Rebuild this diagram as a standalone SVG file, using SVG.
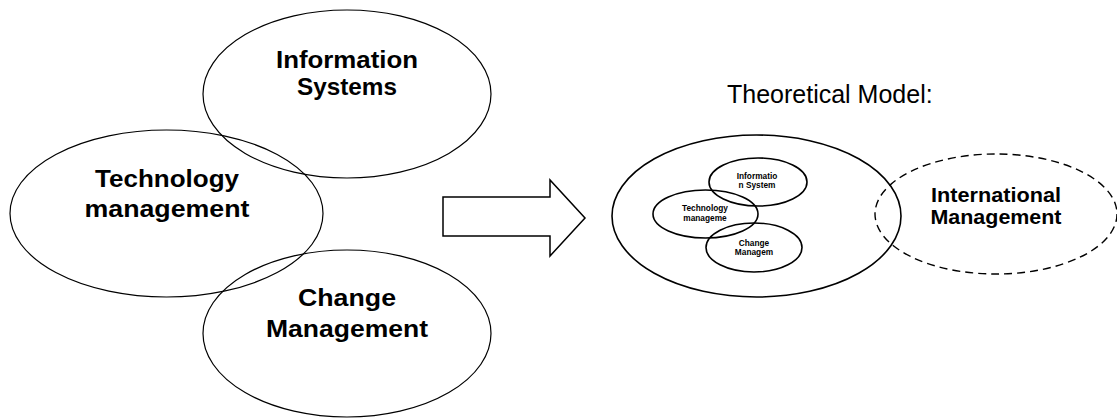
<svg xmlns="http://www.w3.org/2000/svg" width="1117" height="419" viewBox="0 0 1117 419">
<style>
.e1{fill:none;stroke:#000;stroke-width:1.2}
.e2{fill:none;stroke:#000;stroke-width:1.6}
.dash{fill:none;stroke:#000;stroke-width:1.4;stroke-dasharray:8 5}
.big{font-family:"Liberation Sans",Arial,sans-serif;font-weight:bold;font-size:24px;text-anchor:middle;fill:#000}
.mid{font-family:"Liberation Sans",Arial,sans-serif;font-weight:bold;font-size:21px;text-anchor:middle;fill:#000}
.sm{font-family:"Liberation Sans",Arial,sans-serif;font-weight:bold;font-size:8.3px;text-anchor:middle;fill:#000}
.title{font-family:"Liberation Sans",Arial,sans-serif;font-size:25px;fill:#000}
</style>
<rect width="1117" height="419" fill="#fff"/>
<g id="info-systems">
<ellipse class="e1" cx="347" cy="94" rx="144" ry="84"/>
<text class="big" x="347" y="68" textLength="142" lengthAdjust="spacingAndGlyphs">Information</text>
<text class="big" x="347" y="95" textLength="100" lengthAdjust="spacingAndGlyphs">Systems</text>
</g>
<g id="tech-mgmt">
<ellipse class="e1" cx="166.5" cy="213.5" rx="156.5" ry="83.5"/>
<text class="big" x="167" y="187" textLength="144" lengthAdjust="spacingAndGlyphs">Technology</text>
<text class="big" x="167" y="217" textLength="165" lengthAdjust="spacingAndGlyphs">management</text>
</g>
<g id="change-mgmt">
<ellipse class="e1" cx="347" cy="333.5" rx="144" ry="83.5"/>
<text class="big" x="347" y="306" textLength="98" lengthAdjust="spacingAndGlyphs">Change</text>
<text class="big" x="347" y="337" textLength="162" lengthAdjust="spacingAndGlyphs">Management</text>
</g>
<g id="connectors">
<polygon points="443,197 550,197 550,180 585,218 550,256 550,236 443,236" fill="#fff" stroke="#000" stroke-width="1.5" stroke-linejoin="miter"/>
</g>
<text class="title" x="727" y="103">Theoretical Model:</text>
<g id="theoretical-model">
<ellipse class="e2" cx="756.5" cy="216" rx="144.5" ry="81"/>
</g>
<g id="small-info">
<ellipse class="e2" cx="758" cy="182" rx="49" ry="24"/>
<text class="sm" x="757" y="179">Informatio</text>
<text class="sm" x="757" y="188">n System</text>
</g>
<g id="small-tech">
<ellipse class="e2" cx="705.5" cy="214" rx="52.5" ry="24"/>
<text class="sm" x="705" y="211">Technology</text>
<text class="sm" x="705" y="221">manageme</text>
</g>
<g id="small-change">
<ellipse class="e2" cx="754" cy="247.5" rx="48" ry="24.5"/>
<text class="sm" x="754" y="246">Change</text>
<text class="sm" x="754" y="255">Managem</text>
</g>
<g id="intl-mgmt">
<ellipse class="dash" cx="996" cy="214" rx="121" ry="60"/>
<text class="mid" x="996" y="202" textLength="130" lengthAdjust="spacingAndGlyphs">International</text>
<text class="mid" x="996" y="224" textLength="131" lengthAdjust="spacingAndGlyphs">Management</text>
</g>
</svg>
